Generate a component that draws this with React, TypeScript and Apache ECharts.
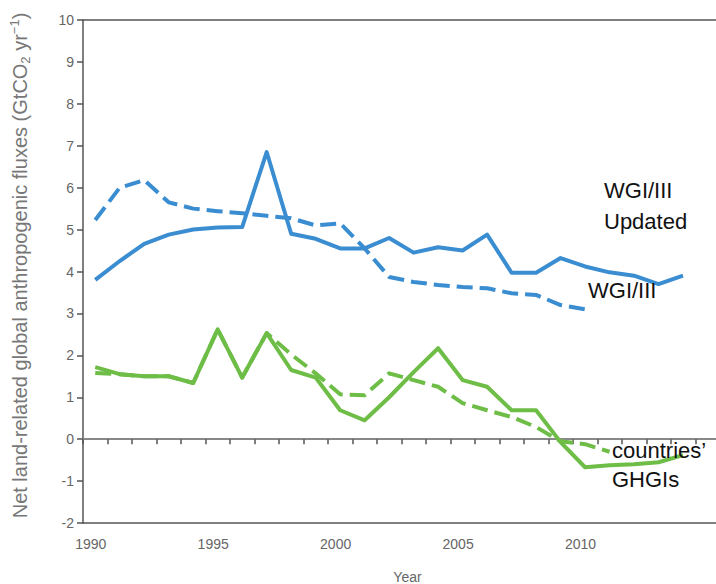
import React, { useEffect, useRef } from "react";
import * as echarts from "echarts";

// Years covered by the inventories
const years = [
  1990, 1991, 1992, 1993, 1994, 1995, 1996, 1997, 1998, 1999, 2000, 2001, 2002,
  2003, 2004, 2005, 2006, 2007, 2008, 2009, 2010, 2011, 2012, 2013, 2014,
];

// WGI/III updated estimate (solid blue), 1990–2014
const wgiUpdated = [
  3.8, 4.25, 4.66, 4.88, 5.0, 5.05, 5.06, 6.85, 4.9, 4.78, 4.55, 4.55, 4.8,
  4.45, 4.58, 4.5, 4.88, 3.97, 3.97, 4.32, 4.12, 3.98, 3.9, 3.7, 3.9,
];

// WGI/III estimate (dashed blue), 1990–2010
const wgi = [
  5.23, 6.0, 6.18, 5.65, 5.5, 5.44, 5.39, 5.33, 5.27, 5.1, 5.15, 4.55, 3.87,
  3.75, 3.68, 3.63, 3.6, 3.48, 3.44, 3.2, 3.1,
];

// Countries' GHGIs, updated (solid green), 1990–2014
const ghgiUpdated = [
  1.72, 1.55, 1.5, 1.5, 1.34, 2.62, 1.47, 2.53, 1.65, 1.47, 0.69, 0.45, 1.0,
  1.6, 2.17, 1.41, 1.25, 0.69, 0.69, -0.07, -0.67, -0.62, -0.6, -0.55, -0.38,
];

// Countries' GHGIs (dashed green), 1990–2011
const ghgi = [
  1.58, 1.55, 1.5, 1.5, 1.34, 2.62, 1.47, 2.53, 2.02, 1.57, 1.07, 1.05, 1.57,
  1.41, 1.25, 0.86, 0.69, 0.53, 0.29, -0.05, -0.12, -0.3,
];

const yearLabels = [1990, 1995, 2000, 2005, 2010];

const BLUE = "#3a8dd0";
const GREEN = "#6dbd46";
const AXIS = "#555";
const LABEL = "#666";
const FONT = "'Liberation Sans', Arial, Helvetica, sans-serif";

const X_MIN = 1989.5;
const X_MAX = 2016;

const pairs = (vals: number[]) => vals.map((v, i) => [years[i], v]);

const line = (name: string, vals: number[], color: string, dashed: boolean) => ({
  name,
  type: "line",
  xAxisIndex: 0,
  yAxisIndex: 0,
  data: pairs(vals),
  symbol: "none",
  lineStyle: {
    color,
    width: 4,
    type: dashed ? [16, 7] : "solid",
    join: "round",
    cap: "butt",
  },
  z: dashed ? 3 : 2,
});

export default function App() {
  const ref = useRef<HTMLDivElement>(null);

  useEffect(() => {
    if (!ref.current) return;
    document.body.style.margin = "0";
    document.body.style.overflow = "hidden";
    const chart = echarts.init(ref.current, null, { renderer: "svg" });

    const labelText = (x: number, y: number, text: string) => ({
      type: "text",
      x,
      y,
      z: 100,
      style: {
        text,
        fill: "#111",
        font: `22px ${FONT}`,
        textAlign: "left",
        textVerticalAlign: "middle",
      },
    });

    chart.setOption({
      animation: false,
      backgroundColor: "#fff",
      textStyle: { fontFamily: FONT },
      grid: {
        left: 83,
        top: 20,
        width: 649,
        height: 503,
        containLabel: false,
        outerBoundsMode: "none",
      },
      xAxis: [
        {
          type: "value",
          min: X_MIN,
          max: X_MAX,
          position: "bottom",
          axisLine: { onZero: false, lineStyle: { color: AXIS, width: 1.5 } },
          axisTick: { show: false },
          splitLine: { show: false },
          axisLabel: {
            customValues: yearLabels,
            color: LABEL,
            fontSize: 14,
            margin: 14,
            padding: [0, 9, 0, 0],
            formatter: (v: number) => String(v),
          },
          name: "Year",
          nameLocation: "middle",
          nameGap: 47,
          nameTextStyle: { color: LABEL, fontSize: 14 },
        },
        {
          // zero line with yearly ticks
          type: "value",
          min: X_MIN,
          max: X_MAX,
          interval: 1,
          position: "bottom",
          axisLine: { onZero: true, onZeroAxisIndex: 0, lineStyle: { color: "#888", width: 2 } },
          axisTick: { show: true, length: 5, lineStyle: { color: AXIS, width: 1.5 } },
          axisLabel: { show: false },
          splitLine: { show: false },
        },
        {
          // top frame line
          type: "value",
          min: X_MIN,
          max: X_MAX,
          position: "top",
          axisLine: { show: true, onZero: false, lineStyle: { color: AXIS, width: 1.5 } },
          axisTick: { show: false },
          axisLabel: { show: false },
          splitLine: { show: false },
        },
      ],
      yAxis: {
        type: "value",
        min: -2,
        max: 10,
        interval: 1,
        axisLine: { show: true, onZero: false, lineStyle: { color: AXIS, width: 1.5 } },
        axisTick: { show: true, length: 6, lineStyle: { color: AXIS, width: 1.5 } },
        splitLine: { show: false },
        axisLabel: { color: LABEL, fontSize: 14, margin: 9 },
        name: "{a|Net land-related global anthropogenic fluxes (GtCO}{sub|2}{a| yr}{sup|−1}{a|)}",
        nameLocation: "middle",
        nameRotate: 90,
        nameGap: 51,
        nameTextStyle: {
          color: "#777",
          padding: [0, 0, 0, 12],
          rich: {
            a: { fontSize: 20, color: "#777", lineHeight: 24, verticalAlign: "middle" },
            sub: { fontSize: 13, color: "#777", lineHeight: 24, verticalAlign: "bottom" },
            sup: { fontSize: 13, color: "#777", lineHeight: 24, verticalAlign: "top" },
          },
        },
      },
      series: [
        line("WGI/III Updated", wgiUpdated, BLUE, false),
        line("WGI/III", wgi, BLUE, true),
        line("countries' GHGIs updated", ghgiUpdated, GREEN, false),
        line("countries' GHGIs", ghgi, GREEN, true),
      ],
      graphic: [
        labelText(604, 190, "WGI/III"),
        labelText(604, 221, "Updated"),
        labelText(588, 290, "WGI/III"),
        labelText(612, 450, "countries’"),
        labelText(612, 479, "GHGIs"),
      ],
    });

    return () => chart.dispose();
  }, []);

  return (
    <div
      ref={ref}
      style={{ position: "absolute", left: 0, top: 0, width: 760, height: 584 }}
    />
  );
}
